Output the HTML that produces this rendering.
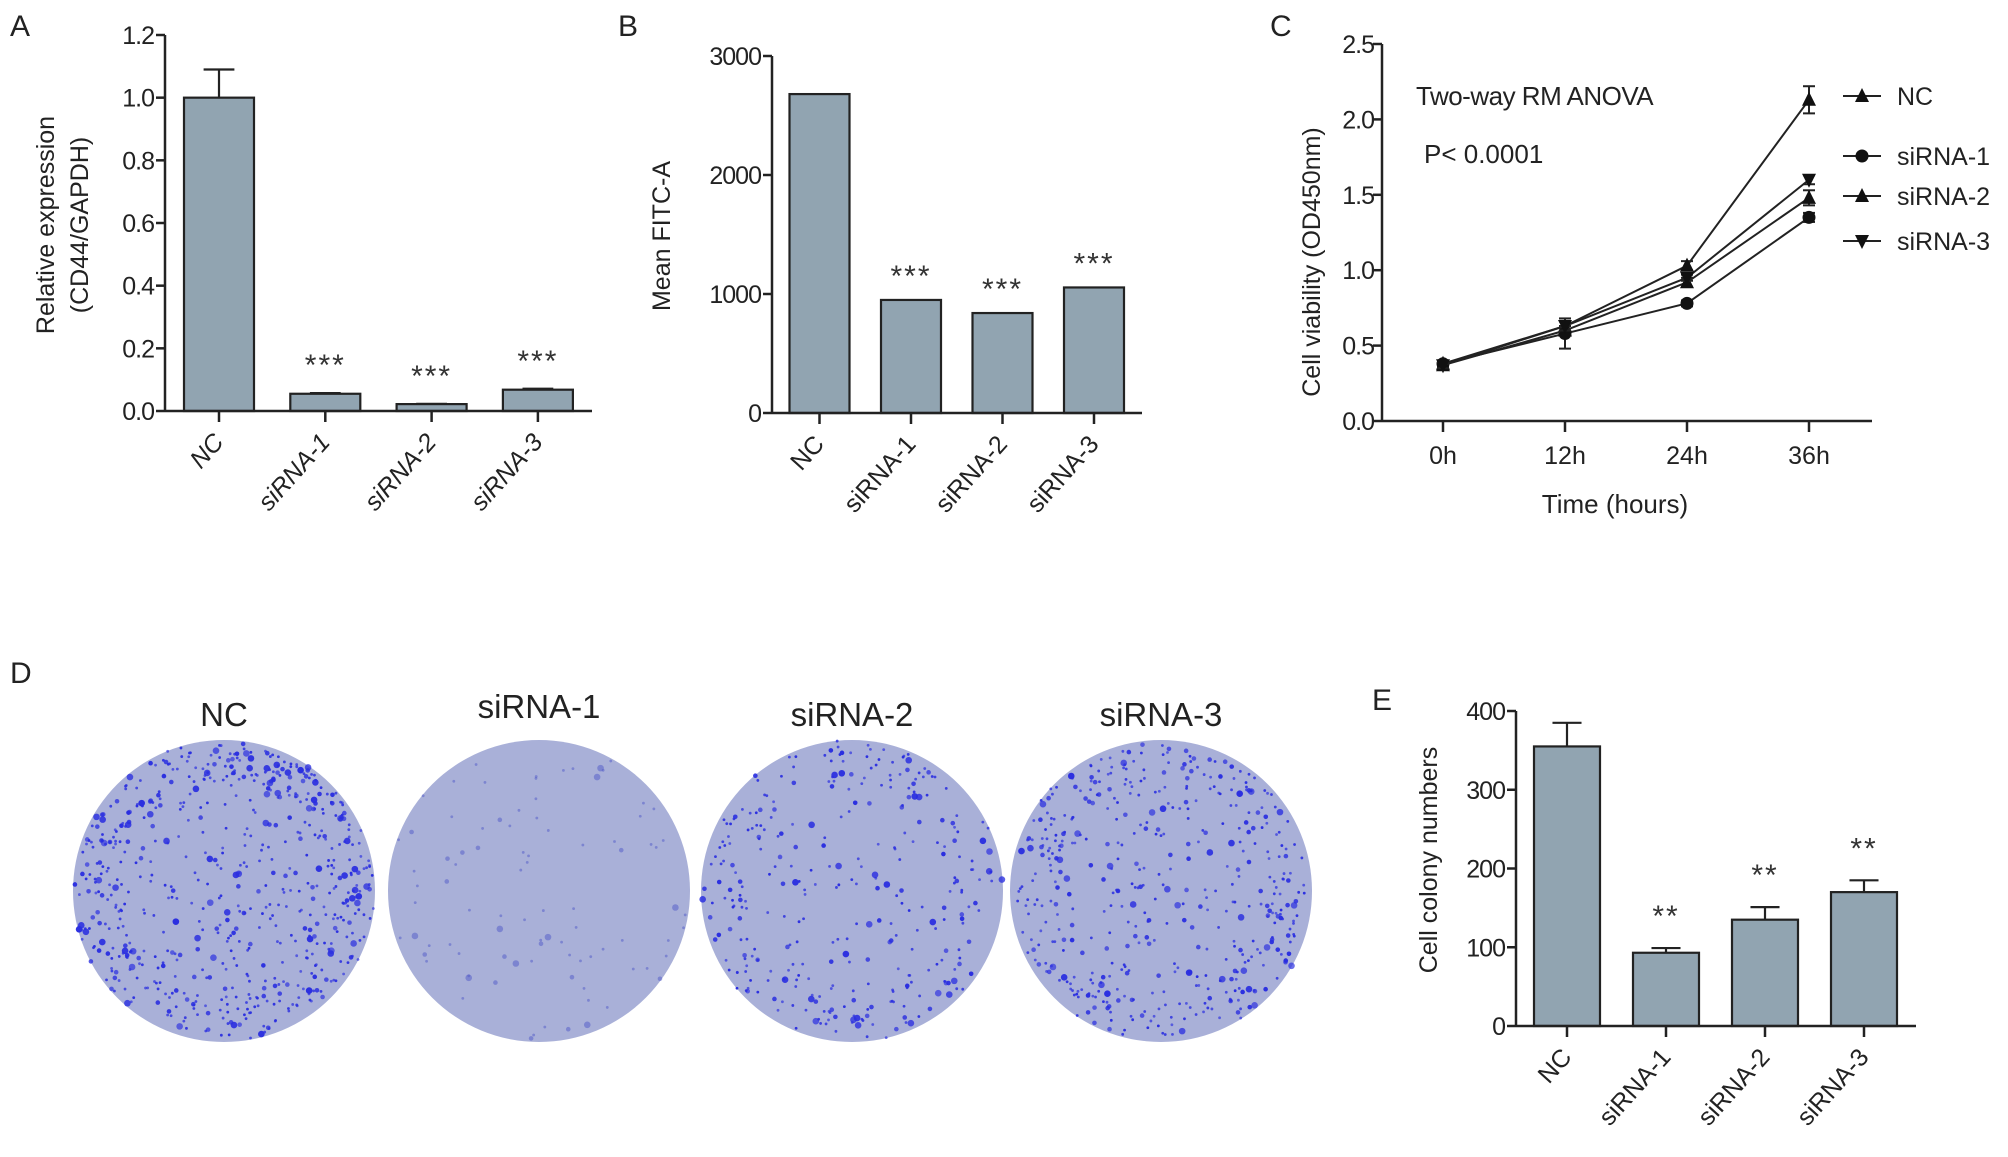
<!DOCTYPE html>
<html><head><meta charset="utf-8"><style>
html,body{margin:0;padding:0;background:#fff;}
svg{display:block;font-family:"Liberation Sans",Arial,sans-serif;}
</style></head><body>
<svg id="fig" width="2008" height="1157" viewBox="0 0 2008 1157" xmlns="http://www.w3.org/2000/svg">
<g id="layer"></g>
</svg>
<script>
// ---- Panel A data ----
const catsA = ["NC","siRNA-1","siRNA-2","siRNA-3"];
const valsA = [1.0, 0.055, 0.022, 0.068];
const errA = [0.09, 0.002, 0.001, 0.003];
const starsA = ["","***","***","***"];
const ticksA = ["0.0","0.2","0.4","0.6","0.8","1.0","1.2"];
// ---- Panel B data ----
const catsB = ["NC","siRNA-1","siRNA-2","siRNA-3"];
const valsB = [2680, 950, 840, 1055];
const starsB = ["","***","***","***"];
const ticksB = ["0","1000","2000","3000"];
// ---- Panel E data ----
const catsE = ["NC","siRNA-1","siRNA-2","siRNA-3"];
const valsE = [355, 93, 135, 170];
const errE = [30, 6, 16, 15];
const starsE = ["","**","**","**"];
const ticksE = ["0","100","200","300","400"];
// ---- Panel C data ----
const timeLabels = ["0h","12h","24h","36h"];
const timeVals = [0, 12, 24, 36];
const seriesNames = ["NC","siRNA-1","siRNA-2","siRNA-3"];
const ncVals = [0.38, 0.63, 1.03, 2.13];
const si1Vals = [0.38, 0.58, 0.78, 1.35];
const si2Vals = [0.37, 0.60, 0.92, 1.48];
const si3Vals = [0.37, 0.63, 0.95, 1.60];
const ncErr = [0.02, 0.05, 0.03, 0.09];
const si1Err = [0.02, 0.10, 0.02, 0.03];
const si2Err = [0.02, 0.03, 0.03, 0.05];
const si3Err = [0.02, 0.03, 0.02, 0.03];
const ticksC = ["0.0","0.5","1.0","1.5","2.0","2.5"];
// ---- Panel D ----
const plateNames = ["NC","siRNA-1","siRNA-2","siRNA-3"];
const plateColonies = [650, 90, 330, 480];

const NS="http://www.w3.org/2000/svg";
const root=document.getElementById('layer');
function mk(tag,attrs,parent){const e=document.createElementNS(NS,tag);for(const k in attrs)e.setAttribute(k,attrs[k]);(parent||root).appendChild(e);return e;}
function txt(s,attrs,parent){const e=mk('text',attrs,parent);e.textContent=s;return e;}

function barChart(o){
  const g=mk('g',{});
  
  
  const ymax=parseFloat(o.ticks[o.ticks.length-1]);
  const Y=v=>o.y0-(v/ymax)*(o.y0-o.yTop);
  const X=i=>o.x0c+i*o.step;
  // bars
  o.vals.forEach((v,i)=>{
    const r=mk('rect',{x:X(i)-o.bw/2,y:Y(v),width:o.bw,height:o.y0-Y(v),fill:'#91a4b1',stroke:'#222','stroke-width':2.2},g);
    
    
    if(o.err){const t=Y(v+o.err[i]);
      mk('line',{x1:X(i),x2:X(i),y1:Y(v),y2:t,stroke:'#222','stroke-width':2.2},g);
      mk('line',{x1:X(i)-o.bw*0.22,x2:X(i)+o.bw*0.22,y1:t,y2:t,stroke:'#222','stroke-width':2.2},g);}
    if(o.stars[i]){const top=o.err?Y(v+o.err[i]):Y(v);
      const s=txt(o.stars[i],{x:X(i),y:top-o.starGap,'text-anchor':'middle','font-size':30,fill:'#333','letter-spacing':2},g);
      
      }
  });
  // axes
  const ya=mk('line',{x1:o.ax,x2:o.ax,y1:o.yTop,y2:o.y0,stroke:'#222','stroke-width':2.5},g);
  
  
  const xa=mk('line',{x1:o.ax,x2:o.axEnd,y1:o.y0,y2:o.y0,stroke:'#222','stroke-width':2.5},g);
  
  
  o.ticks.forEach(t=>{const y=Y(parseFloat(t));
    mk('line',{x1:o.ax-9,x2:o.ax,y1:y,y2:y,stroke:'#222','stroke-width':2.5},g);
    const l=txt(t,{x:o.ax-11,y:y+9,'text-anchor':'end','font-size':25,fill:'#222','letter-spacing':-1},g);
    
    });
  o.cats.forEach((c,i)=>{
    mk('line',{x1:X(i),x2:X(i),y1:o.y0,y2:o.y0+11,stroke:'#222','stroke-width':2.5},g);
    const l=txt(c,{x:X(i)+6,y:o.y0+32,'text-anchor':'end','font-size':25,fill:'#222',transform:`rotate(-48 ${X(i)+6} ${o.y0+32})`,'font-style':o.italic?'italic':'normal'},g);
    
    });
  // y title
  o.ytitle.forEach((t,k)=>{const x=o.ytx[k];
    const l=txt(t,{x:x,y:o.yty,'text-anchor':'middle','font-size':25,fill:'#222',transform:`rotate(-90 ${x} ${o.yty})`},g);
    
    });
  const pl=txt(o.letter,{x:o.lx,y:o.ly,'font-size':30,fill:'#222'},g);
  
  
}

barChart({name:'panel-a-chart',cats:catsA,vals:valsA,err:errA,stars:starsA,ticks:ticksA,
  ax:165,axEnd:592,y0:411,yTop:35,x0c:219,step:106.3,bw:70,starGap:18,italic:true,
  ytitle:["Relative expression","(CD44/GAPDH)"],ytx:[54,88],yty:225,letter:'A',lx:10,ly:36});
barChart({name:'panel-b-chart',cats:catsB,vals:valsB,err:null,stars:starsB,ticks:ticksB,
  ax:772,axEnd:1142,y0:413,yTop:56,x0c:819.5,step:91.5,bw:60,starGap:14,italic:false,
  ytitle:["Mean FITC-A"],ytx:[670],yty:236,letter:'B',lx:618,ly:36});
barChart({name:'panel-e-chart',cats:catsE,vals:valsE,err:errE,stars:starsE,ticks:ticksE,
  ax:1516,axEnd:1916,y0:1026,yTop:711,x0c:1567,step:99,bw:66,starGap:22,italic:false,
  ytitle:["Cell colony numbers"],ytx:[1437],yty:860,letter:'E',lx:1372,ly:710});

// ---- Panel C line chart ----
(function(){
  const g=mk('g',{});
  
  
  const ax=1382,axEnd=1872,y0=421,yTop=44;
  const Y=v=>y0-(v/2.5)*(y0-yTop);
  const X=t=>1443+(t/12)*122;
  const ya=mk('line',{x1:ax,x2:ax,y1:yTop,y2:y0,stroke:'#222','stroke-width':2.5},g);
  
  
  const xa=mk('line',{x1:ax,x2:axEnd,y1:y0,y2:y0,stroke:'#222','stroke-width':2.5},g);
  
  
  ticksC.forEach(t=>{const y=Y(parseFloat(t));
    mk('line',{x1:ax-9,x2:ax,y1:y,y2:y,stroke:'#222','stroke-width':2.5},g);
    const l=txt(t,{x:ax-8,y:y+9,'text-anchor':'end','font-size':25,fill:'#222','letter-spacing':-1},g);
    
    });
  timeVals.forEach((t,i)=>{const x=X(t);
    mk('line',{x1:x,x2:x,y1:y0,y2:y0+11,stroke:'#222','stroke-width':2.5},g);
    const l=txt(timeLabels[i],{x:x,y:y0+43,'text-anchor':'middle','font-size':25,fill:'#222'},g);
    
    });
  const xt=txt("Time (hours)",{x:1615,y:513,'text-anchor':'middle','font-size':26,fill:'#222'},g);
  
  
  const yt=txt("Cell viability (OD450nm)",{x:1320,y:262,'text-anchor':'middle','font-size':25,fill:'#222',transform:'rotate(-90 1320 262)'},g);
  
  
  const a1=txt("Two-way RM ANOVA",{x:1416,y:105,'font-size':26,fill:'#222','letter-spacing':-0.5},g);
  
  
  const a2=txt("P< 0.0001",{x:1424,y:163,'font-size':26,fill:'#222'},g);
  
  
  const pl=txt('C',{x:1270,y:36,'font-size':30,fill:'#222'},g);
  
  
  function marker(kind,x,y,parent){
    if(kind==='circle')return mk('circle',{cx:x,cy:y,r:6.5,fill:'#111'},parent);
    if(kind==='up')return mk('polygon',{points:`${x},${y-8} ${x-7},${y+6} ${x+7},${y+6}`,fill:'#111'},parent);
    return mk('polygon',{points:`${x},${y+8} ${x-7},${y-6} ${x+7},${y-6}`,fill:'#111'},parent);
  }
  const all=[ncVals,si1Vals,si2Vals,si3Vals];
  const errs=[ncErr,si1Err,si2Err,si3Err];
  const kinds=['up','circle','up','down'];
  const legY=[96,156,196,241];
  all.forEach((vals,s)=>{
    const sg=mk('g',{},g);
    
    
    const pts=vals.map((v,i)=>X(timeVals[i])+','+Y(v)).join(' ');
    mk('polyline',{points:pts,fill:'none',stroke:'#222','stroke-width':2},sg);
    vals.forEach((v,i)=>{const x=X(timeVals[i]),e=errs[s][i];
      mk('line',{x1:x,x2:x,y1:Y(v-e),y2:Y(v+e),stroke:'#222','stroke-width':2},sg);
      mk('line',{x1:x-6,x2:x+6,y1:Y(v-e),y2:Y(v-e),stroke:'#222','stroke-width':2},sg);
      mk('line',{x1:x-6,x2:x+6,y1:Y(v+e),y2:Y(v+e),stroke:'#222','stroke-width':2},sg);
      const m=marker(kinds[s],x,Y(v),sg);
      
      });
    const lg=mk('g',{},g);
    
    
    mk('line',{x1:1843,x2:1881,y1:legY[s],y2:legY[s],stroke:'#222','stroke-width':2},lg);
    marker(kinds[s],1862,legY[s],lg);
    txt(seriesNames[s],{x:1897,y:legY[s]+9,'font-size':25,fill:'#222'},lg);
  });
})();

// ---- Panel D plates ----
(function(){
  const g=mk('g',{});
  
  
  const pl=txt('D',{x:10,y:683,'font-size':30,fill:'#222'},g);
  
  
  const cx=[224,539,852,1161];
  let seed=7;const rnd=()=>{seed=(seed*16807)%2147483647;return seed/2147483647;};
  plateNames.forEach((n,i)=>{
    const pg=mk('g',{},g);
    
    
    const t=txt(n,{x:cx[i],y:i===1?718:726,'text-anchor':'middle','font-size':33,fill:'#222'},pg);
    
    
    mk('circle',{cx:cx[i],cy:891,r:151,fill:'#a9b0d8'},pg);
    for(let k=0;k<plateColonies[i];k++){
      let r=151*Math.sqrt(rnd());const a=rnd()*6.283;
      if(i!==1&&rnd()<0.4) r=151*(0.7+0.28*rnd());
      const big=rnd();
      const op=i===1?0.5:0.65+0.35*rnd();
      mk('circle',{cx:cx[i]+r*Math.cos(a),cy:891+r*Math.sin(a),r:big<0.7?1.4:(big<0.92?2.3:3.3),fill:i===1?'#4f57c8':'#2a2ee0','fill-opacity':op},pg);
    }
  });
})();
</script>
</body></html>
